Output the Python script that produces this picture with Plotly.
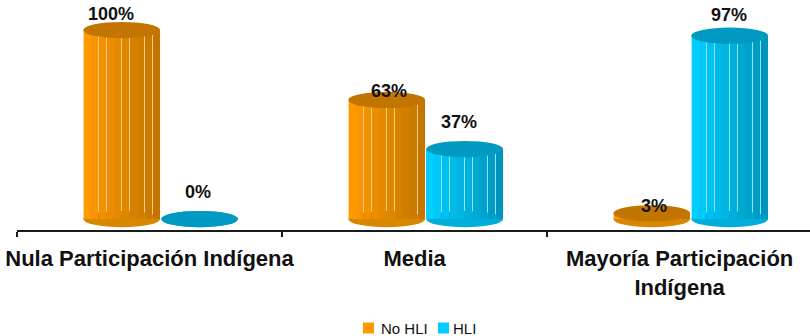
import plotly.graph_objects as go

# ---- data ----
categories = ["Nula Participación Indígena", "Media", "Mayoría Participación<br>Indígena"]
no_hli = [100, 63, 3]
hli = [0, 37, 97]

# ---- styling ----
FONT = "Liberation Sans, Arial, Helvetica, sans-serif"
W, H = 810, 336
M_L, M_R, M_T, M_B = 17, 0, 0, 106
BAR_W = 0.29          # cylinder width in category units
N_STRIPS = 10         # vertical facets per cylinder
CAP_H = 4.3           # half-height of the elliptical ends, in value units

series = [
    dict(name="No HLI", values=no_hli, offset=-0.105,
         light=(255, 153, 0), dark=(194, 118, 0),
         cap="#C27500", base="#D98600", seam="#FFCB80", key="#FF9900",
         lift=[16, 9, 7], shift=[-11, 2, 2]),
    dict(name="HLI", values=hli, offset=0.189,
         light=(0, 206, 255), dark=(0, 150, 188),
         cap="#0099C2", base="#00AEDB", seam="#8FE4FF", key="#00CCFF",
         lift=[27, 27, 21], shift=[-2, -6, -1]),
]


def mix(a, b, t):
    return "rgb({},{},{})".format(*[round(a[i] + (b[i] - a[i]) * t) for i in range(3)])


def paper_x(px):
    return (px - M_L) / (W - M_L - M_R)


def paper_y(py):
    return (H - M_B - py) / (H - M_T - M_B)


x_pos = list(range(len(categories)))
fig = go.Figure()
shapes = []
annotations = []
strip_w = BAR_W / N_STRIPS

for s in series:
    left = [x + s["offset"] - BAR_W / 2 for x in x_pos]
    # front face: a row of narrow facets shaded from light to dark
    for k in range(N_STRIPS):
        fig.add_trace(go.Bar(
            x=[l + strip_w * (k + 0.5) for l in left],
            y=s["values"],
            base=0,
            width=strip_w * 0.93,
            marker=dict(color=mix(s["light"], s["dark"], k / (N_STRIPS - 1)), line=dict(width=0)),
            name=s["name"],
            showlegend=False,
            hoverinfo="skip",
        ))
    for i, v in enumerate(s["values"]):
        x0, x1 = left[i], left[i] + BAR_W
        # pale backing that shows through the seams between facets
        shapes.append(dict(type="rect", xref="x", yref="y", layer="below",
                           x0=x0, x1=x1, y0=0, y1=v,
                           fillcolor=s["seam"], line=dict(width=0)))
        # rounded bottom edge
        shapes.append(dict(type="circle", xref="x", yref="y", layer="below",
                           x0=x0, x1=x1, y0=-CAP_H, y1=CAP_H,
                           fillcolor=s["base"], line=dict(width=0)))
        # top cap
        shapes.append(dict(type="circle", xref="x", yref="y", layer="above",
                           x0=x0, x1=x1, y0=v - CAP_H, y1=v + CAP_H,
                           fillcolor=s["cap"], line=dict(width=0)))
        annotations.append(dict(
            x=x_pos[i] + s["offset"], y=v, xref="x", yref="y",
            text=f"<b>{v}%</b>", showarrow=False,
            xanchor="center", yanchor="middle",
            xshift=s["shift"][i], yshift=s["lift"][i],
            font=dict(family=FONT, size=18, color="#111111"),
        ))

# legend: colour key + series name, centred under the chart
legend_keys = [(363, 379), (438, 451)]
for s, (kx, tx) in zip(series, legend_keys):
    shapes.append(dict(type="rect", xref="paper", yref="paper",
                       x0=paper_x(kx), x1=paper_x(kx + 11),
                       y0=paper_y(333.5), y1=paper_y(322.5),
                       fillcolor=s["key"], line=dict(width=0)))
    annotations.append(dict(x=paper_x(tx), y=paper_y(328), xref="paper", yref="paper",
                            text=s["name"], showarrow=False,
                            xanchor="left", yanchor="middle",
                            font=dict(family=FONT, size=15, color="#111111")))

fig.update_layout(
    width=W, height=H,
    margin=dict(l=M_L, r=M_R, t=M_T, b=M_B),
    paper_bgcolor="white", plot_bgcolor="white",
    barmode="overlay",
    bargap=0,
    shapes=shapes,
    annotations=annotations,
    showlegend=False,
    font=dict(family=FONT),
)

fig.update_xaxes(
    range=[-0.5, 2.492],
    tickmode="array", tickvals=x_pos,
    ticktext=[f"<b>{c}</b>" for c in categories],
    ticks="", showgrid=False, zeroline=False,
    showline=True, linecolor="#1a1a1a", linewidth=2,
    ticklabelstandoff=8,
    tickfont=dict(family=FONT, size=22, color="#111111"),
    minor=dict(tickmode="linear", tick0=-0.5, dtick=1, ticks="outside",
               ticklen=5, tickwidth=2, tickcolor="#1a1a1a", showgrid=False),
)
fig.update_yaxes(range=[-5.8, 115.9], visible=False, showgrid=False, zeroline=False)

fig.write_html("out.html")
